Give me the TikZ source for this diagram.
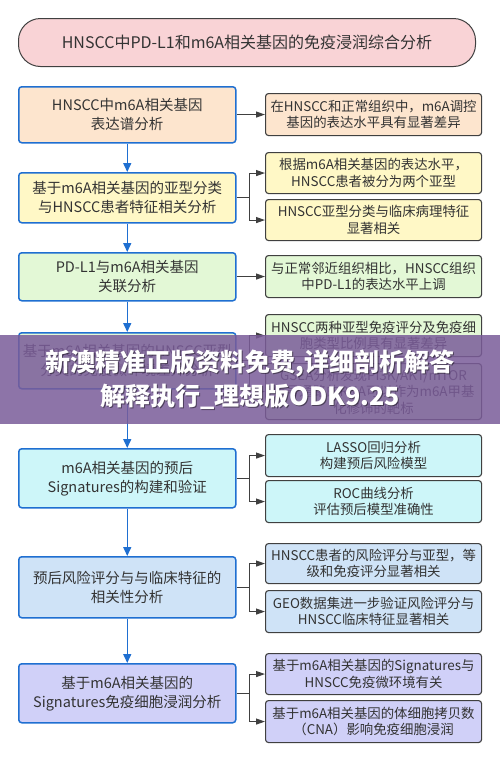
\documentclass[tikz,border=0pt]{standalone}
\usepackage{fontspec}
\setmainfont{Noto Sans CJK SC}
\usetikzlibrary{arrows.meta}
\definecolor{txt}{HTML}{333333}
\definecolor{lblue}{HTML}{1F6FD1}
\definecolor{rgray}{HTML}{404040}
\definecolor{fpink}{HTML}{F9D3D6}
\definecolor{fpeach}{HTML}{FDE5CE}
\definecolor{fyellow}{HTML}{FFF8C6}
\definecolor{fgreen}{HTML}{E3F8D6}
\definecolor{fcyan}{HTML}{CDF6F9}
\definecolor{fblue}{HTML}{CFE3F7}
\definecolor{flav}{HTML}{D0D0F8}
\definecolor{banner}{HTML}{7A5C99}
\begin{document}
\begin{tikzpicture}[x=1pt,y=-1pt,
  lbox/.style={draw=lblue, line width=1.5pt, rounded corners=3pt, align=center, inner sep=0pt,
    anchor=north west, text=txt, font=\fontsize{14.5}{19}\selectfont},
  rbox/.style={draw=rgray, line width=1.1pt, rounded corners=3pt, align=center, inner sep=0pt,
    anchor=north west, text=txt, font=\fontsize{13.4}{16.5}\selectfont, minimum width=216pt},
  varr/.style={draw=lblue, line width=1.5pt, -{Triangle[length=9pt,width=8pt]}},
  harr/.style={draw=rgray, line width=1.1pt, -{Triangle[length=9pt,width=6pt]}},
  hline/.style={draw=rgray, line width=1.1pt}]
\useasboundingbox (0,0) rectangle (500,761);
\fill[white] (0,0) rectangle (500,761);

% title
\node[draw=rgray, line width=1pt, fill=fpink, rounded corners=22pt, minimum width=457pt, minimum height=48pt,
  anchor=north west, inner sep=0pt, text=txt, font=\fontsize{16}{19}\selectfont] (T) at (18,18)
  {HNSCC中PD-L1和m6A相关基因的免疫浸润综合分析};

% left column
\node[lbox, fill=fpeach, minimum width=217pt, minimum height=56pt] (L1) at (18,86) {HNSCC中m6A相关基因\\表达谱分析};
\node[lbox, fill=fyellow, minimum width=217pt, minimum height=50pt] (L2) at (18,172) {基于m6A相关基因的亚型分类\\与HNSCC患者特征相关分析};
\node[lbox, fill=fgreen, minimum width=217pt, minimum height=48pt] (L3) at (18,252) {PD-L1与m6A相关基因\\关联分析};
\node[lbox, fill=fgreen, minimum width=217pt, minimum height=56pt] (L4) at (18,332) {基于m6A相关基因的HNSCC亚型\\分类的免疫微环境差异分析};
\node[lbox, fill=fcyan, minimum width=217pt, minimum height=59pt] (L5) at (18,448) {m6A相关基因的预后\\Signatures的构建和验证};
\node[lbox, fill=fblue, minimum width=217pt, minimum height=61pt] (L6) at (18,556) {预后风险评分与与临床特征的\\相关性分析};
\node[lbox, fill=flav, minimum width=217pt, minimum height=59pt] (L7) at (18,663) {基于m6A相关基因的\\Signatures免疫细胞浸润分析};

% right column
\node[rbox, fill=fpeach, minimum height=42pt] (R1) at (265,93) {在HNSCC和正常组织中，m6A调控\\基因的表达水平具有显著差异};
\node[rbox, fill=fyellow, minimum height=41pt] (R2a) at (265,152) {根据m6A相关基因的表达水平，\\HNSCC患者被分为两个亚型};
\node[rbox, fill=fyellow, minimum height=41pt] (R2b) at (265,199) {HNSCC亚型分类与临床病理特征\\显著相关};
\node[rbox, fill=fgreen, minimum height=42pt] (R3) at (265,255) {与正常邻近组织相比，HNSCC组织\\中PD-L1的表达水平上调};
\node[rbox, fill=fgreen, minimum height=42pt] (R4a) at (265,314) {HNSCC两种亚型免疫评分及免疫细\\胞类型比例具有显著差异};
\node[rbox, fill=fgreen, minimum height=56pt] (R4b) at (265,363) {GSEA分析发现PI3K/AKT/mTOR\\信号通路的RNA可以作为m6A甲基\\化修饰的靶标};
\node[rbox, fill=fcyan, minimum height=42pt] (R5a) at (265,434) {LASSO回归分析\\构建预后风险模型};
\node[rbox, fill=fcyan, minimum height=42pt] (R5b) at (265,480) {ROC曲线分析\\评估预后模型准确性};
\node[rbox, fill=fblue, minimum height=40pt] (R6a) at (265,543) {HNSCC患者的风险评分与亚型，等\\级和免疫评分显著相关};
\node[rbox, fill=fblue, minimum height=42pt] (R6b) at (265,590) {GEO数据集进一步验证风险评分与\\HNSCC临床特征显著相关};
\node[rbox, fill=flav, minimum height=41pt] (R7a) at (265,653) {基于m6A相关基因的Signatures与\\HNSCC免疫微环境有关};
\node[rbox, fill=flav, minimum height=42pt] (R7b) at (265,700) {基于m6A相关基因的体细胞拷贝数\\（CNA）影响免疫细胞浸润};

% vertical arrows
\draw[varr] (L1.south) -- (L2.north);
\draw[varr] (L2.south) -- (L3.north);
\draw[varr] (L3.south) -- (L4.north);
\draw[varr] (L4.south) -- (L5.north);
\draw[varr] (L5.south) -- (L6.north);
\draw[varr] (L6.south) -- (L7.north);

% horizontal arrows
\draw[harr] (L1.east |- R1.west) -- (R1.west);
\draw[harr] (L3.east |- R3.west) -- (R3.west);
\foreach \l/\a/\b in {L2/R2a/R2b, L4/R4a/R4b, L5/R5a/R5b, L6/R6a/R6b, L7/R7a/R7b}{
  \draw[hline] (\l.east) -- ++(13,0) coordinate (j\l);
  \draw[harr] (j\l) |- (\a.west);
  \draw[harr] (j\l) |- (\b.west);
}

% overlay banner
\fill[banner, fill opacity=0.85] (0,335) rectangle (500,424);
\node[text=black, opacity=0.45, font=\fontsize{25}{34}\selectfont\bfseries, align=center] (Bs) at (251.2,381.2)
  {新澳精准正版资料免费,详细剖析解答\\解释执行\_理想版ODK9.25};
\node[text=white, font=\fontsize{25}{34}\selectfont\bfseries, align=center] (B) at (250,380)
  {新澳精准正版资料免费,详细剖析解答\\解释执行\_理想版ODK9.25};
\end{tikzpicture}
\end{document}
